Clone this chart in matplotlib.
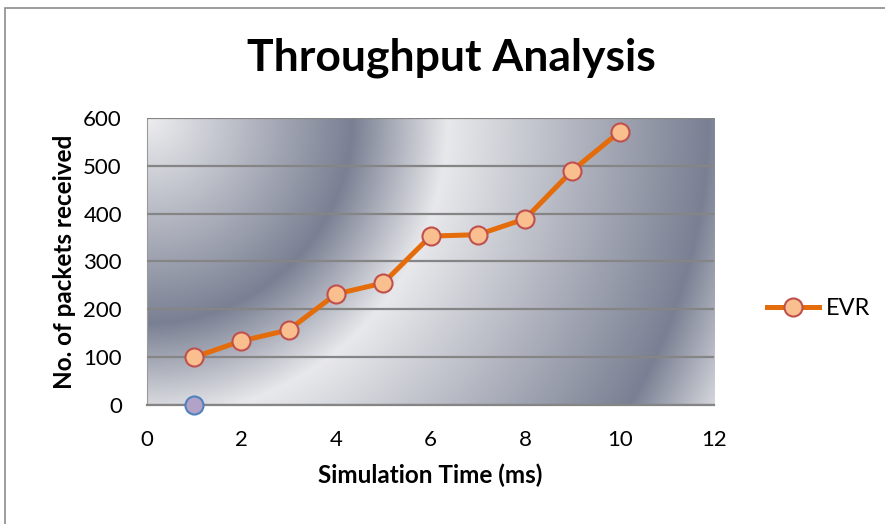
import numpy as np
import matplotlib.pyplot as plt
from matplotlib.patches import Rectangle

plt.rcParams['font.family'] = ['Lato', 'DejaVu Sans']

# data
sim_time = [1, 2, 3, 4, 5, 6, 7, 8, 9, 10]
evr_packets = [100, 134, 157, 232, 255, 353, 356, 389, 490, 571]
extra_x = [1]
extra_y = [0]
x_ticks = [0, 2, 4, 6, 8, 10, 12]
y_ticks = [0, 100, 200, 300, 400, 500, 600]

fig = plt.figure(figsize=(8.85, 5.24), dpi=100)
ax = fig.add_axes([0.166, 0.227, 0.641, 0.548])

# chrome-like radial background centred on the top left corner of the plot area
w, h = 567, 287
px, py = np.meshgrid(np.arange(w), np.arange(h))
r = np.sqrt(px ** 2 + py ** 2)
shade = np.interp(r, [0, 205, 300, 560, 640], [0.0, 1.0, 0.05, 1.0, 0.15])
light = np.array([238, 238, 240]) / 255
dark = np.array([122, 128, 147]) / 255
img = light[None, None, :] * (1 - shade[..., None]) + dark[None, None, :] * shade[..., None]
ax.imshow(img, extent=[0, 12, 0, 600], aspect='auto', zorder=0, origin='upper')

ax.set_xlim(0, 12)
ax.set_ylim(0, 600)
ax.set_xticks(x_ticks)
ax.set_yticks(y_ticks)
ax.tick_params(length=0, labelsize=16)
ax.tick_params(axis='x', pad=18)
ax.tick_params(axis='y', pad=18)
ax.yaxis.grid(True, color='#858585', linewidth=1.6, zorder=1)
ax.set_axisbelow(False)
for s in ['top', 'right']:
    ax.spines[s].set_visible(False)
ax.spines['left'].set_color('#9a9a9a')
ax.spines['bottom'].set_color('#858585')
ax.spines['bottom'].set_linewidth(1.6)

ax.plot(sim_time, evr_packets, color='#e46c0a', linewidth=3.6, marker='o',
        markersize=13, markerfacecolor='#fabf8f', markeredgecolor='#c0504d',
        markeredgewidth=1.5, label='EVR', zorder=3, clip_on=False)
ax.plot(extra_x, extra_y, linestyle='none', marker='o', markersize=13,
        markerfacecolor='#b3a2c7', markeredgecolor='#4f81bd', markeredgewidth=1.5,
        zorder=3, clip_on=False)

ax.set_xlabel('Simulation Time (ms)', fontsize=17.5, fontweight='bold', labelpad=10)
ax.set_ylabel('No. of packets received', fontsize=17.5, fontweight='bold', labelpad=5)
fig.suptitle('Throughput Analysis', fontsize=32, fontweight='bold', x=0.51, y=0.928)

ax.legend(loc='center left', bbox_to_anchor=(1.055, 0.335), frameon=False,
          fontsize=17, handlelength=2.2, handletextpad=0.3)

fig.patches.append(Rectangle((0.006, -0.1), 1.2, 1.085, transform=fig.transFigure,
                             fill=False, edgecolor='#8c8c8c', linewidth=1.2))

plt.savefig('out.png', dpi=100)
